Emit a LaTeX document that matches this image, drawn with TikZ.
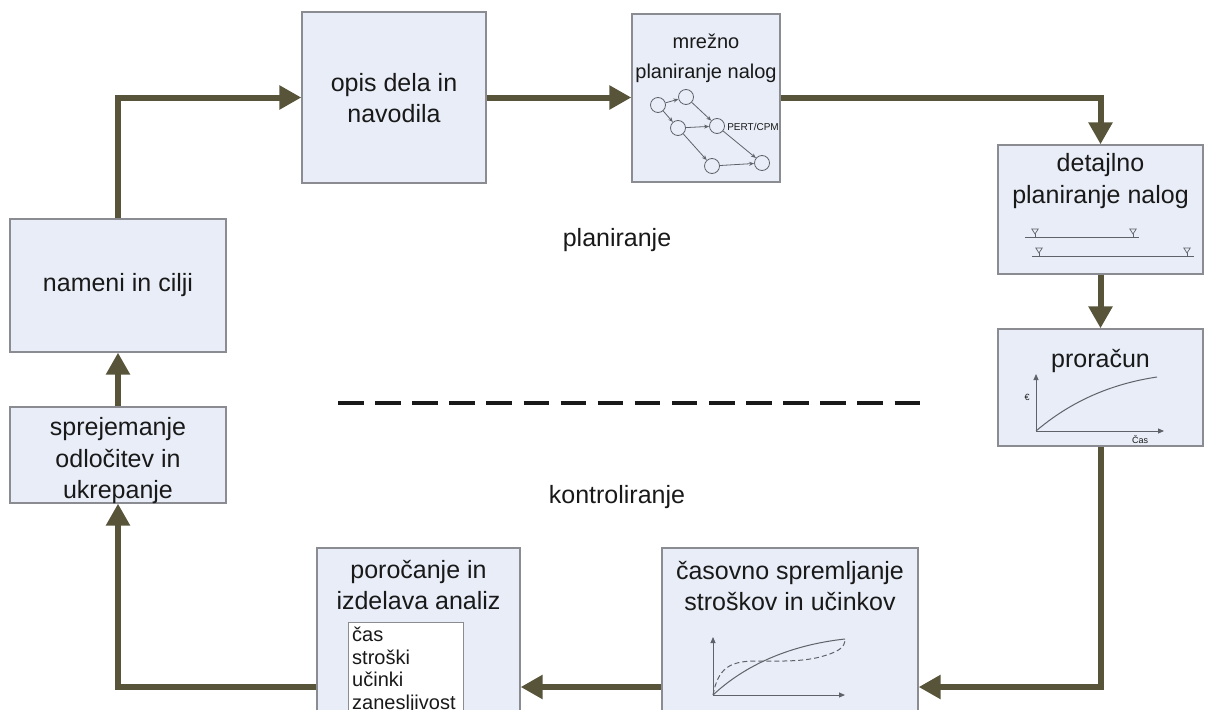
\documentclass[tikz,border=0pt]{standalone}
\usepackage{fontspec}
\setmainfont{Liberation Sans}
\usetikzlibrary{arrows.meta}
\definecolor{flow}{RGB}{88,84,58}
\definecolor{boxfill}{RGB}{232,237,247}
\definecolor{boxline}{RGB}{138,140,145}
\definecolor{sketch}{RGB}{95,98,105}
\definecolor{ink}{RGB}{25,25,25}

\begin{document}
\begin{tikzpicture}[x=1pt,y=-1pt,
  box/.style={draw=boxline, fill=boxfill, line width=1.3pt, inner sep=0pt},
  listbox/.style={draw=boxline, fill=white, line width=1pt, inner sep=0pt},
  flowarrow/.style={draw=flow, line width=6pt, line join=miter,
    -{Triangle[length=22pt,width=23pt]}},
  title/.style={font=\fontsize{25}{31.5}\selectfont, align=center, text=ink, inner sep=0pt},
  smalltitle/.style={font=\fontsize{20}{30}\selectfont, align=center, text=ink, inner sep=0pt},
  tiny/.style={font=\fontsize{9}{10}\selectfont, text=ink, inner sep=0pt},
  listtext/.style={font=\fontsize{20}{22.5}\selectfont, align=left, text=ink, inner sep=0pt},
  axis/.style={draw=sketch, line width=1pt, -{Triangle[length=6pt,width=5pt]}},
  curve/.style={draw=sketch, line width=1pt},
  net/.style={draw=sketch, circle, line width=0.8pt, minimum size=15pt, inner sep=0pt},
  netedge/.style={draw=sketch, line width=0.8pt, -{Stealth[length=5pt,width=4pt]}},
  gantt/.style={draw=sketch, line width=0.9pt},
]
\useasboundingbox (0,0) rectangle (1209,709);
\clip (0,0) rectangle (1209,709);

% ---------- boxes ----------
\node[box, minimum width=216pt, minimum height=133pt] (nameni) at (118,285.5) {};
\node[box, minimum width=216pt, minimum height=96pt] (sprejem) at (118,455) {};
\node[box, minimum width=184pt, minimum height=171pt] (opis) at (394,97.5) {};
\node[box, minimum width=148pt, minimum height=168pt] (mrezno) at (706,98) {};
\node[box, minimum width=205pt, minimum height=129pt] (detajl) at (1100.5,209.5) {};
\node[box, minimum width=205pt, minimum height=117pt] (proracun) at (1100.5,387.5) {};
\node[box, minimum width=256pt, minimum height=180pt] (casovno) at (790,638) {};
\node[box, minimum width=203pt, minimum height=180pt] (porocanje) at (418.5,638) {};
\node[listbox, minimum width=115pt, minimum height=110pt] (seznam) at (405.5,677) {};

% ---------- box texts ----------
\node[title] (t-nameni) at (118,285.5) {nameni in cilji};
\node[title] (t-sprejem) at (118,461) {sprejemanje\\odločitev in\\ukrepanje};
\node[title] (t-opis) at (394,98) {opis dela in\\navodila};
\node[smalltitle] (t-mrezno) at (706,58) {mrežno\\planiranje nalog};
\node[title] (t-detajl) at (1100.5,181) {detajlno\\planiranje nalog};
\node[title] (t-proracun) at (1100.5,361) {proračun};
\node[title] (t-casovno) at (790,586) {časovno spremljanje\\stroškov in učinkov};
\node[title] (t-porocanje) at (418.5,585) {poročanje in\\izdelava analiz};
\node[listtext, anchor=north west] (t-seznam) at (352,627) {čas\\stroški\\učinki\\zanesljivost};

% ---------- section labels and divider ----------
\node[title] (planiranje) at (617,240) {planiranje};
\node[title] (kontroliranje) at (617,497) {kontroliranje};
\coordinate (divL) at (338,403);
\coordinate (divR) at (921,403);
\draw[line width=4pt, ink, dash pattern=on 25.5pt off 11.6pt] (divL) -- (divR);

% ---------- network sketch (PERT/CPM) ----------
\node[net] (n1) at (658,105) {};
\node[net] (n2) at (686,97) {};
\node[net] (n3) at (678,128) {};
\node[net] (n4) at (717,126) {};
\node[net] (n5) at (712,166) {};
\node[net] (n6) at (762,163) {};
\draw[netedge] (n1) -- (n2);
\draw[netedge] (n1) -- (n3);
\draw[netedge] (n2) -- (n4);
\draw[netedge] (n3) -- (n4);
\draw[netedge] (n3) -- (n5);
\draw[netedge] (n4) -- (n6);
\draw[netedge] (n5) -- (n6);
\node[tiny, font=\fontsize{10}{11}\selectfont] (pert) at (753,127) {PERT/CPM};

% ---------- bar sketch ----------
\coordinate (g1a) at (1025,237); \coordinate (g1b) at (1139,237);
\coordinate (g2a) at (1032,256); \coordinate (g2b) at (1194,256);
\draw[gantt] (g1a) -- (g1b);
\draw[gantt] (g2a) -- (g2b);
\foreach \mx/\my in {1035/237, 1133/237, 1039/256, 1187/256}{
  \draw[gantt, line width=0.7pt] (\mx-3.2,\my-8) -- (\mx+3.2,\my-8) -- (\mx,\my-3) -- cycle;
  \draw[gantt, line width=0.7pt] (\mx,\my-3) -- (\mx,\my);
}

% ---------- budget sketch ----------
\coordinate (bo) at (1036,431);
\coordinate (by) at (1036,374);
\coordinate (bx) at (1164,431);
\draw[axis] (bo) -- (by);
\draw[axis] (bo) -- (bx);
\draw[curve] (bo) .. controls (1070,402) and (1110,384) .. (1157,377);
\node[tiny] (euro) at (1027,397) {€};
\node[tiny] (cas) at (1140,440) {Čas};

% ---------- tracking sketch ----------
\coordinate (co) at (713,695);
\coordinate (cy) at (713,637);
\coordinate (cx) at (845,695);
\draw[axis] (co) -- (cy);
\draw[axis] (co) -- (cx);
\draw[curve] (co) .. controls (745,665) and (790,645) .. (845,639);
\draw[curve, dash pattern=on 5pt off 3pt] (co) .. controls (718,668) and (730,662) .. (752,661)
   .. controls (780,661) and (800,662) .. (820,657)
   .. controls (838,652) and (845,648) .. (845,639);

% ---------- process flow ----------
\draw[flowarrow] (nameni.north) -- (nameni.north |- opis.west) -- (opis.west);
\draw[flowarrow] (opis.east) -- (opis.east -| mrezno.west);
\draw[flowarrow] (mrezno.east |- opis.east) -- (opis.east -| detajl.north) -- (detajl.north);
\draw[flowarrow] (detajl.south) -- (proracun.north);
\coordinate (low) at (0,687);
\draw[flowarrow] (proracun.south) -- (proracun.south |- low) -- (casovno.east |- low);
\draw[flowarrow] (casovno.west |- low) -- (porocanje.east |- low);
\draw[flowarrow] (porocanje.west |- low) -- (sprejem.south |- low) -- (sprejem.south);
\draw[flowarrow] (sprejem.north) -- (nameni.south);
\end{tikzpicture}
\end{document}
